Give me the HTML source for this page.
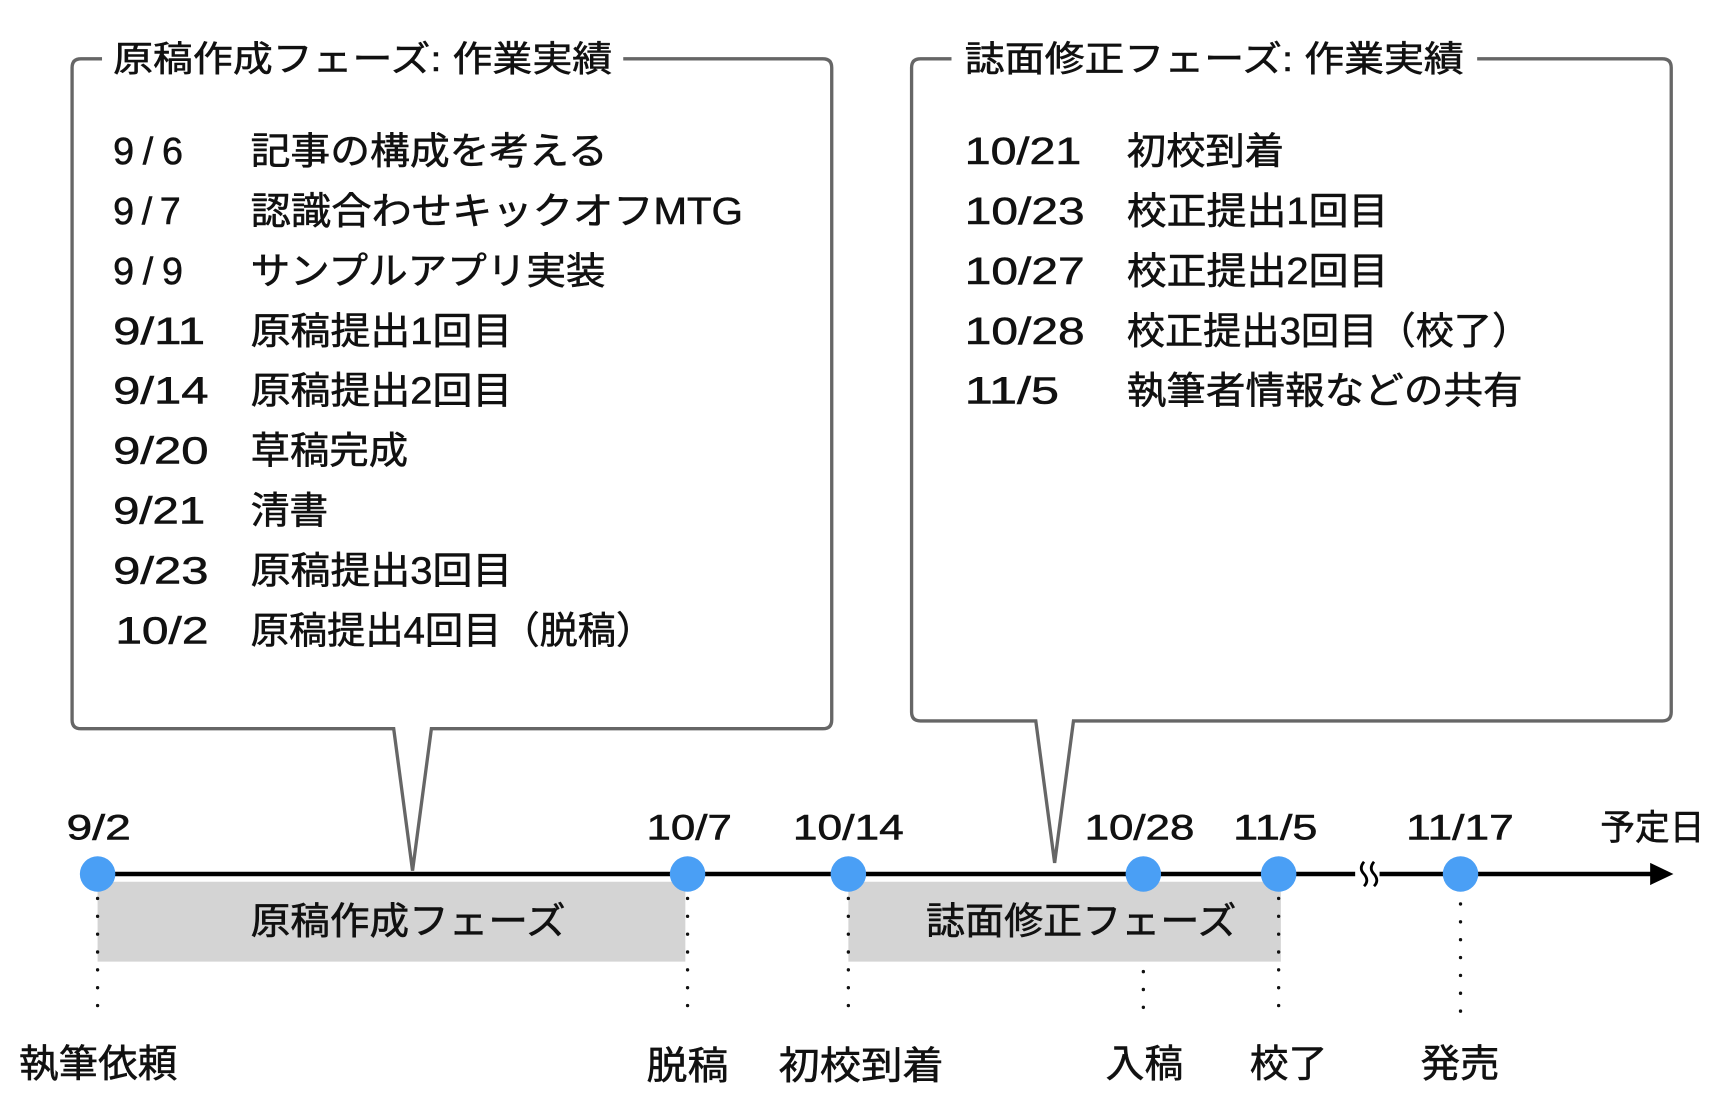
<!DOCTYPE html>
<html><head><meta charset="utf-8"><style>
html,body{margin:0;padding:0;background:#fff;}
svg{display:block;}
text{font-family:"Liberation Sans","Noto Sans CJK JP",sans-serif;fill:#111;stroke:#111;stroke-width:0.5;}
</style></head><body>
<svg width="1730" height="1118" viewBox="0 0 1560 1008" preserveAspectRatio="none" xmlns="http://www.w3.org/2000/svg">
<!-- left box -->
<path d="M92 53 H73 Q65 53 65 61 V649 Q65 657 73 657 H355 L372 785 L389 657 H742 Q750 657 750 649 V61 Q750 53 742 53 H562" fill="none" stroke="#666" stroke-width="3"/>
<text x="102" y="64" font-size="32" textLength="450" lengthAdjust="spacingAndGlyphs">原稿作成フェーズ: 作業実績</text>
<g font-size="34" lengthAdjust="spacingAndGlyphs">
<text x="102" y="148" textLength="63">9/6</text><text x="226" y="148" textLength="322" lengthAdjust="spacingAndGlyphs">記事の構成を考える</text>
<text x="102" y="202" textLength="61">9/7</text><text x="226" y="202" textLength="444" lengthAdjust="spacingAndGlyphs">認識合わせキックオフMTG</text>
<text x="102" y="256" textLength="63">9/9</text><text x="226" y="256" textLength="320" lengthAdjust="spacingAndGlyphs">サンプルアプリ実装</text>
<text x="102" y="310" textLength="83" lengthAdjust="spacingAndGlyphs">9/11</text><text x="226" y="310" textLength="236" lengthAdjust="spacingAndGlyphs">原稿提出1回目</text>
<text x="102" y="364" textLength="86" lengthAdjust="spacingAndGlyphs">9/14</text><text x="226" y="364" textLength="236" lengthAdjust="spacingAndGlyphs">原稿提出2回目</text>
<text x="102" y="418" textLength="86" lengthAdjust="spacingAndGlyphs">9/20</text><text x="226" y="418" textLength="142" lengthAdjust="spacingAndGlyphs">草稿完成</text>
<text x="102" y="472" textLength="83" lengthAdjust="spacingAndGlyphs">9/21</text><text x="226" y="472" textLength="70" lengthAdjust="spacingAndGlyphs">清書</text>
<text x="102" y="526" textLength="86" lengthAdjust="spacingAndGlyphs">9/23</text><text x="226" y="526" textLength="236" lengthAdjust="spacingAndGlyphs">原稿提出3回目</text>
<text x="104" y="580" textLength="84" lengthAdjust="spacingAndGlyphs">10/2</text><text x="226" y="580" textLength="364" lengthAdjust="spacingAndGlyphs">原稿提出4回目（脱稿）</text>
</g>
<!-- right box -->
<path d="M858 53 H830 Q822 53 822 61 V642 Q822 650 830 650 H934 L951 778 L968 650 H1499 Q1507 650 1507 642 V61 Q1507 53 1499 53 H1332" fill="none" stroke="#666" stroke-width="3"/>
<text x="870" y="64" font-size="32" textLength="450" lengthAdjust="spacingAndGlyphs">誌面修正フェーズ: 作業実績</text>
<g font-size="34">
<text x="870" y="148" textLength="105" lengthAdjust="spacingAndGlyphs">10/21</text><text x="1016" y="148" textLength="142" lengthAdjust="spacingAndGlyphs">初校到着</text>
<text x="870" y="202" textLength="108" lengthAdjust="spacingAndGlyphs">10/23</text><text x="1016" y="202" textLength="236" lengthAdjust="spacingAndGlyphs">校正提出1回目</text>
<text x="870" y="256" textLength="108" lengthAdjust="spacingAndGlyphs">10/27</text><text x="1016" y="256" textLength="236" lengthAdjust="spacingAndGlyphs">校正提出2回目</text>
<text x="870" y="310" textLength="108" lengthAdjust="spacingAndGlyphs">10/28</text><text x="1016" y="310" textLength="364" lengthAdjust="spacingAndGlyphs">校正提出3回目（校了）</text>
<text x="870" y="364" textLength="85" lengthAdjust="spacingAndGlyphs">11/5</text><text x="1016" y="364" textLength="357" lengthAdjust="spacingAndGlyphs">執筆者情報などの共有</text>
</g>
<!-- gray phases -->
<rect x="88" y="795" width="530" height="72" fill="#d4d4d4"/>
<rect x="765" y="795" width="390" height="72" fill="#d4d4d4"/>
<text x="226" y="842" font-size="34" textLength="284" lengthAdjust="spacingAndGlyphs">原稿作成フェーズ</text>
<text x="835" y="842" font-size="34" textLength="280" lengthAdjust="spacingAndGlyphs">誌面修正フェーズ</text>
<!-- dotted -->
<g stroke="#111" stroke-width="3" stroke-dasharray="0.1 16" stroke-linecap="round" fill="none">
<path d="M88 810 V920"/><path d="M620 810 V920"/><path d="M765 810 V920"/>
<path d="M1031 876 V920"/><path d="M1153 810 V920"/><path d="M1317 815 V920"/>
</g>
<!-- timeline -->
<line x1="88" y1="788" x2="1492" y2="788" stroke="#000" stroke-width="4"/>
<path d="M1488 778 L1509 788 L1488 798 Z" fill="#000"/>
<rect x="1222" y="776" width="22" height="24" fill="#fff"/>
<path d="M1230 777 q-5 6 0 11 q5 6 0 11 M1239 777 q-5 6 0 11 q5 6 0 11" stroke="#000" stroke-width="2.5" fill="none"/>
<g fill="#4a9ff5">
<circle cx="88" cy="788" r="16"/><circle cx="620" cy="788" r="16"/><circle cx="765" cy="788" r="16"/>
<circle cx="1031" cy="788" r="16"/><circle cx="1153" cy="788" r="16"/><circle cx="1317" cy="788" r="16"/>
</g>
<g font-size="32">
<text x="60" y="757" textLength="58" lengthAdjust="spacingAndGlyphs">9/2</text>
<text x="583" y="757" textLength="77" lengthAdjust="spacingAndGlyphs">10/7</text>
<text x="715" y="757" textLength="100" lengthAdjust="spacingAndGlyphs">10/14</text>
<text x="978" y="757" textLength="99" lengthAdjust="spacingAndGlyphs">10/28</text>
<text x="1112" y="757" textLength="76" lengthAdjust="spacingAndGlyphs">11/5</text>
<text x="1268" y="757" textLength="97" lengthAdjust="spacingAndGlyphs">11/17</text>
<text x="1443" y="757" textLength="94" lengthAdjust="spacingAndGlyphs">予定日</text>
</g>
<g font-size="35">
<text x="17" y="971" textLength="143" lengthAdjust="spacingAndGlyphs">執筆依頼</text>
<text x="583" y="973" textLength="74" lengthAdjust="spacingAndGlyphs">脱稿</text>
<text x="702" y="973" textLength="149" lengthAdjust="spacingAndGlyphs">初校到着</text>
<text x="997" y="971" textLength="70" lengthAdjust="spacingAndGlyphs">入稿</text>
<text x="1127" y="971" textLength="70" lengthAdjust="spacingAndGlyphs">校了</text>
<text x="1281" y="971" textLength="71" lengthAdjust="spacingAndGlyphs">発売</text>
</g>
</svg>
</body></html>
